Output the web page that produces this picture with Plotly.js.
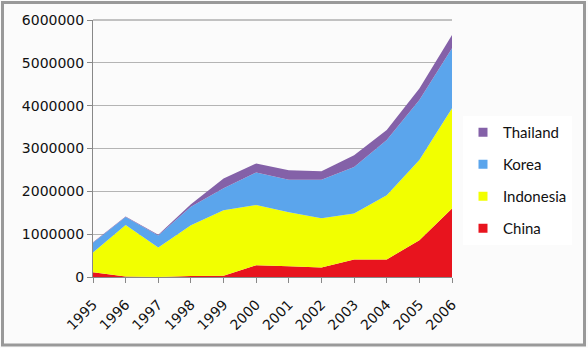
<!DOCTYPE html>
<html>
<head>
<meta charset="utf-8">
<script src="https://cdn.plot.ly/plotly-3.0.1.min.js"></script>
<style>
html,body{margin:0;padding:0;background:#fbfbfb;}
#chart{width:588px;height:348px;}
</style>
</head>
<body>
<div id="chart"></div>
<script>
var years = ['1995','1996','1997','1998','1999','2000','2001','2002','2003','2004','2005','2006'];
var china     = [110000, 10000, 0, 25000, 30000, 275000, 250000, 220000, 410000, 410000, 860000, 1600000];
var indonesia = [460000, 1205000, 690000, 1185000, 1530000, 1405000, 1260000, 1150000, 1070000, 1500000, 1870000, 2340000];
var korea     = [230000, 185000, 280000, 430000, 510000, 760000, 760000, 900000, 1090000, 1290000, 1400000, 1400000];
var thailand  = [10000, 15000, 15000, 60000, 230000, 210000, 220000, 200000, 270000, 230000, 270000, 310000];
var seriesNames = ['China', 'Indonesia', 'Korea', 'Thailand'];
var yTicks = [0, 1000000, 2000000, 3000000, 4000000, 5000000, 6000000];
var yTickText = ['0','1000000','2000000','3000000','4000000','5000000','6000000'];

var colors = ['#e8141e', '#f2ff00', '#5ba5ec', '#8461a8'];
var values = [china, indonesia, korea, thailand];

var data = [];
values.forEach(function(v, i){
  data.push({x: years, y: v, name: seriesNames[i], type: 'scatter', mode: 'none',
             stackgroup: 'one', fill: 'tonexty', fillcolor: colors[i],
             line: {width: 0}, showlegend: false, hoverinfo: 'skip'});
});
// legend entries (square swatches)
values.forEach(function(v, i){
  data.push({x: [null], y: [null], name: seriesNames[i], type: 'scatter', mode: 'markers',
             marker: {symbol: 'square', size: 9, color: colors[i]},
             legendgroup: 'g' + i, legendrank: 10 - i, showlegend: true, hoverinfo: 'skip'});
});

var W = 359, H = 257;
var layout = {
  width: 588, height: 348,
  margin: {l: 93, r: 136, t: 20, b: 71},
  paper_bgcolor: '#fbfbfb',
  plot_bgcolor: '#fbfbfb',
  font: {family: 'DejaVu Sans', color: '#111'},
  showlegend: true,
  legend: {
    x: (463 - 93) / W, xanchor: 'left', y: (277 - 116) / H, yanchor: 'top',
    bgcolor: '#ffffff', borderwidth: 0,
    font: {family: 'Lato', size: 15, color: '#111'},
    traceorder: 'grouped', tracegroupgap: 9.5,
    itemwidth: 30
  },
  xaxis: {
    type: 'category', range: [0, 11], tickangle: -45,
    showline: true, linecolor: '#888', linewidth: 1,
    ticks: 'outside', ticklen: 5, tickcolor: '#888',
    showgrid: false, zeroline: false, ticklabelstandoff: 8,
    tickfont: {family: 'DejaVu Sans', size: 14, color: '#111'}
  },
  yaxis: {
    range: [0, 6000000], tickvals: yTicks, ticktext: yTickText,
    showline: true, linecolor: '#888', linewidth: 1,
    ticks: 'outside', ticklen: 5, tickcolor: '#888',
    showgrid: true, gridcolor: '#b4b4b4', gridwidth: 1, zeroline: false,
    tickfont: {family: 'DejaVu Sans', size: 14, color: '#111'}
  },
  shapes: [
    {type: 'rect', xref: 'paper', yref: 'paper',
     x0: (2.5 - 93) / W, x1: (584.5 - 93) / W,
     y0: (277 - 345) / H, y1: (277 - 2.5) / H,
     line: {color: '#999', width: 3}, fillcolor: 'rgba(0,0,0,0)', layer: 'below'},
    {type: 'line', xref: 'paper', yref: 'paper', x0: 0, x1: 1, y0: 1, y1: 1,
     line: {color: '#888', width: 1}}
  ]
};
Plotly.newPlot('chart', data, layout, {staticPlot: true});
</script>
</body>
</html>
